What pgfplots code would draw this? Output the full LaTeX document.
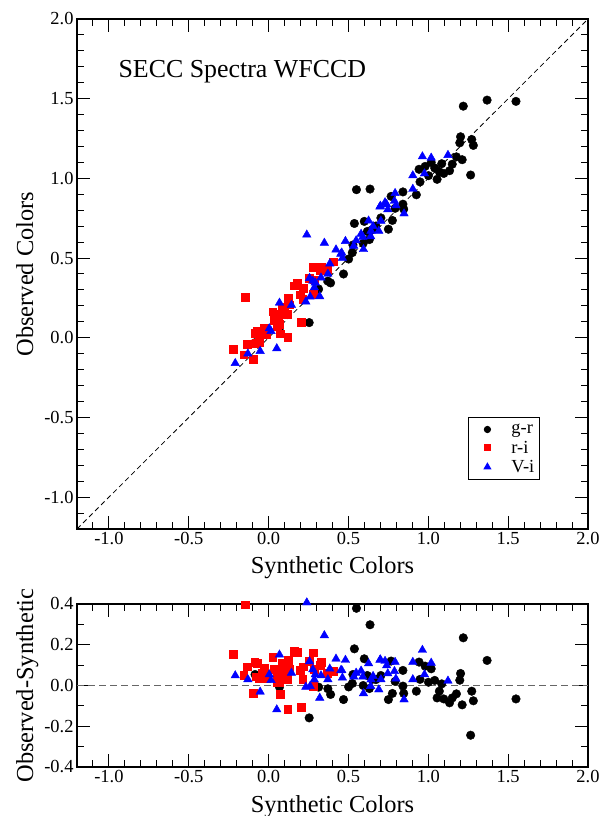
\documentclass[border=0pt]{standalone}
\usepackage{pgfplots}
\pgfplotsset{compat=1.18}
\usepackage{pgfplotstable}
\usepackage{fontspec}
\setmainfont{Liberation Serif}

\pgfplotstableread{
x r y
-0.085 0.054 -0.031
0.068 -0.008 0.060
0.254 -0.159 0.095
0.313 -0.008 0.305
0.371 -0.016 0.355
0.388 -0.044 0.344
0.469 -0.069 0.400
0.501 -0.007 0.494
0.524 0.010 0.534
0.528 0.054 0.582
0.537 0.180 0.717
0.550 0.379 0.929
0.599 0.131 0.730
0.592 0.000 0.592
0.618 0.049 0.667
0.631 -0.015 0.616
0.635 0.298 0.933
0.648 0.030 0.678
0.672 0.029 0.701
0.703 0.049 0.752
0.750 -0.069 0.681
0.767 0.120 0.887
0.775 -0.039 0.736
0.792 0.020 0.812
0.841 0.074 0.915
0.841 -0.003 0.838
0.846 -0.039 0.807
0.925 -0.028 0.897
0.942 0.115 1.057
0.948 0.030 0.978
0.980 0.095 1.075
1.001 0.016 1.017
1.018 0.082 1.100
1.040 0.025 1.065
1.055 -0.061 0.994
1.069 -0.028 1.041
1.084 0.008 1.092
1.097 -0.066 1.031
1.133 -0.085 1.048
1.150 -0.061 1.089
1.176 -0.041 1.135
1.197 0.026 1.223
1.202 0.059 1.261
1.212 -0.095 1.117
1.219 0.234 1.453
1.272 -0.028 1.244
1.282 -0.075 1.207
1.265 -0.244 1.021
1.368 0.123 1.491
1.549 -0.066 1.483
}\grdata

\pgfplotstableread{
x r y
-0.145 0.397 0.252
-0.224 0.152 -0.072
-0.134 0.092 -0.042
-0.156 0.049 -0.107
-0.087 0.115 0.028
-0.070 0.111 0.041
-0.077 0.043 -0.034
-0.096 -0.039 -0.135
-0.061 0.033 -0.028
-0.026 0.085 0.059
-0.038 0.059 0.021
-0.013 0.033 0.020
0.026 0.138 0.164
0.032 0.079 0.111
0.053 0.016 0.069
0.058 0.066 0.124
0.069 0.078 0.147
0.083 0.108 0.191
0.068 0.016 0.084
0.070 -0.044 0.026
0.101 0.049 0.150
0.121 0.125 0.246
0.128 0.079 0.207
0.117 0.030 0.147
0.158 0.169 0.327
0.179 0.164 0.343
0.196 0.074 0.270
0.213 0.030 0.243
0.217 0.092 0.309
0.256 0.120 0.376
0.281 0.161 0.442
0.285 0.079 0.364
0.324 0.098 0.422
0.328 0.115 0.443
0.366 0.062 0.428
0.405 0.072 0.477
0.277 -0.003 0.274
0.119 -0.118 0.001
0.202 -0.105 0.097
0.051 0.043 0.094
0.085 0.062 0.147
0.100 0.087 0.187
}\ridata

\pgfplotstableread{
x r y
-0.209 0.049 -0.160
-0.130 0.030 -0.100
-0.053 -0.031 -0.084
0.004 0.054 0.058
0.015 0.026 0.041
0.051 -0.118 -0.067
0.068 0.151 0.219
0.143 0.062 0.205
0.239 0.407 0.646
0.233 -0.007 0.226
0.256 0.118 0.374
0.260 -0.003 0.257
0.277 0.079 0.356
0.286 0.029 0.315
0.292 0.054 0.346
0.320 -0.061 0.259
0.328 0.049 0.377
0.349 0.246 0.595
0.371 0.030 0.401
0.383 0.082 0.465
0.422 0.131 0.553
0.452 0.074 0.526
0.458 0.075 0.533
0.462 0.038 0.500
0.481 0.125 0.606
0.548 0.062 0.610
0.533 0.043 0.576
0.579 0.072 0.651
0.590 0.043 0.633
0.594 -0.039 0.555
0.626 0.108 0.734
0.639 -0.003 0.636
0.641 0.029 0.670
0.654 0.046 0.700
0.690 -0.020 0.670
0.697 0.125 0.822
0.700 0.127 0.827
0.703 0.030 0.733
0.729 0.120 0.849
0.739 0.098 0.837
0.746 0.059 0.805
0.792 0.115 0.907
0.797 0.033 0.830
0.788 0.070 0.858
0.848 -0.069 0.779
0.903 0.115 1.018
0.903 0.030 0.933
0.963 0.174 1.137
0.976 0.054 1.030
1.018 0.111 1.129
1.123 0.023 1.146
}\vidata

\pgfplotsset{
  myaxis/.style={
    scale only axis,
    width=511bp,
    xmin=-1.2, xmax=2.0,
    tick align=inside,
    major tick length=13bp,
    minor tick length=7bp,
    axis line style={line width=1.3bp},
    every tick/.style={black, line width=1bp},
    tick label style={font=\fontsize{18.5}{20}\selectfont},
    label style={font=\fontsize{24.5}{28}\selectfont},
    xtick={-1,-0.5,0,0.5,1,1.5,2},
    xticklabels={-1.0,-0.5,0.0,0.5,1.0,1.5,2.0},
    minor xtick={-1.1,-0.9,-0.8,-0.7,-0.6,-0.4,-0.3,-0.2,-0.1,0.1,0.2,0.3,0.4,0.6,0.7,0.8,0.9,1.1,1.2,1.3,1.4,1.6,1.7,1.8,1.9},
    xlabel style={at={(axis description cs:0.5,0)}, anchor=base, yshift=-45bp},
    ylabel style={at={(axis description cs:-0.0861,0.5)}, anchor=base},
    clip=false,
  },
  grstyle/.style={only marks, mark=*, mark size=4.3bp, black, mark options={draw=black, fill=black}},
  ristyle/.style={only marks, mark=square*, mark size=3.9bp, red, mark options={draw=red, fill=red}},
  vistyle/.style={only marks, mark=triangle*, mark size=4.9bp, blue, mark options={draw=blue, fill=blue}},
  mylegimg/.style={legend image code/.code={%
      \path[draw=none, fill=none] (-15bp,-7bp) rectangle (23bp,7bp);
      \draw[##1, mark size=#1] plot coordinates {(0bp,0bp)};}},
}

\begin{document}
\begin{tikzpicture}
\useasboundingbox (0,0) rectangle (603bp,816bp);
\begin{axis}[myaxis,
  at={(77bp,287bp)}, anchor=south west,
  height=510bp,
  ymin=-1.2, ymax=2.0,
  ytick={-1,-0.5,0,0.5,1,1.5,2},
  yticklabels={-1.0,-0.5,0.0,0.5,1.0,1.5,2.0},
  minor ytick={-1.1,-0.9,-0.8,-0.7,-0.6,-0.4,-0.3,-0.2,-0.1,0.1,0.2,0.3,0.4,0.6,0.7,0.8,0.9,1.1,1.2,1.3,1.4,1.6,1.7,1.8,1.9},
  xlabel={Synthetic Colors},
  ylabel={Observed Colors},
  legend style={at={(axis description cs:0.765,0.2196)}, anchor=north west,
    draw=black, line width=1bp, font=\fontsize{18.5}{19}\selectfont,
    inner xsep=4bp, inner ysep=5bp, row sep=3.5bp, column sep=0bp,
    nodes={inner sep=1bp}},
  legend cell align=left,
]
\addplot[black, line width=0.8bp, dash pattern=on 5bp off 3.5bp, forget plot] coordinates {(-1.2,-1.2) (2.0,2.0)};
\addplot[grstyle, mylegimg=3.1bp] table[x=x, y=y] {\grdata};
\addlegendentry{g-r}
\addplot[ristyle, mylegimg=2.9bp] table[x=x, y=y] {\ridata};
\addlegendentry{r-i}
\addplot[vistyle, mylegimg=3.8bp] table[x=x, y=y] {\vidata};
\addlegendentry{V-i}
\node[anchor=base west, font=\fontsize{26}{30}\selectfont] at (axis description cs:0.0744,0.886) {SECC Spectra WFCCD};
\end{axis}

\begin{axis}[myaxis,
  at={(77bp,49bp)}, anchor=south west,
  height=163bp,
  ymin=-0.4, ymax=0.4,
  ytick={-0.4,-0.2,0,0.2,0.4},
  yticklabels={-0.4,-0.2,0.0,0.2,0.4},
  minor ytick={-0.3,-0.1,0.1,0.3},
  xlabel={Synthetic Colors},
  ylabel={Observed-Synthetic},
]
\addplot[black!60, line width=1.3bp, dash pattern=on 7bp off 4bp] coordinates {(-1.2,0) (2.0,0)};
\addplot[grstyle] table[x=x, y=r] {\grdata};
\addplot[ristyle] table[x=x, y=r] {\ridata};
\addplot[vistyle] table[x=x, y=r] {\vidata};
\end{axis}
\end{tikzpicture}
\end{document}
